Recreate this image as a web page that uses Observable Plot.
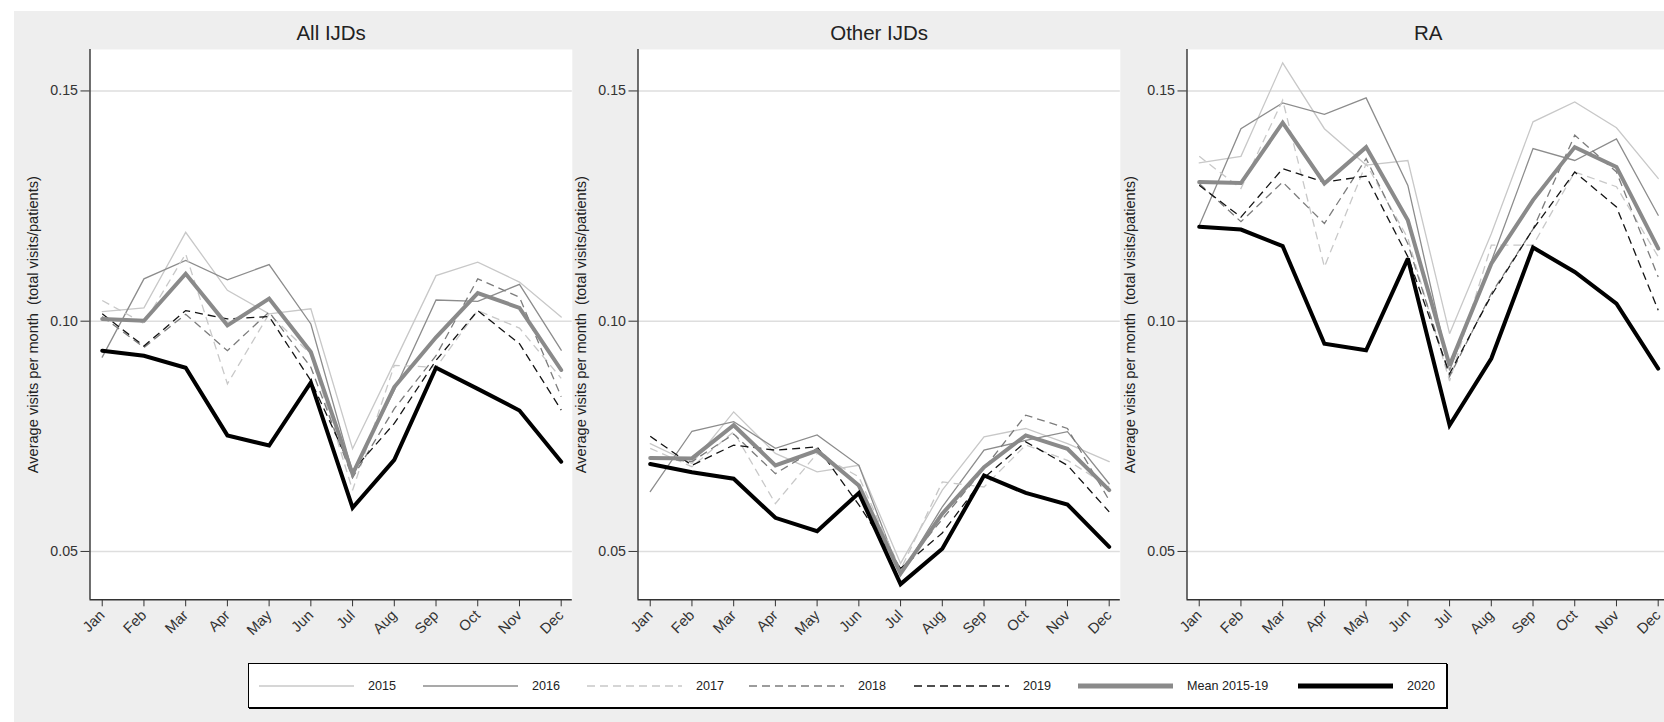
<!DOCTYPE html>
<html>
<head>
<meta charset="utf-8">
<script src="https://cdn.jsdelivr.net/npm/d3@7"></script>
<script src="https://cdn.jsdelivr.net/npm/@observablehq/plot@0.6"></script>
<style>
html, body { margin: 0; padding: 0; width: 1664px; height: 722px; overflow: hidden; background: #ffffff; font-family: "Liberation Sans", Arial, sans-serif; }
#bg { position: absolute; left: 14px; top: 11px; right: 0; bottom: 0; background: #eeeeee; }
.panel { position: absolute; top: 11px; }
.panel svg { overflow: visible; max-width: none !important; display: block; }
.panel svg g[aria-label="y-axis tick label"] { font-size: 14.2px; }
.panel svg g[aria-label="x-axis tick label"] { font-size: 14.8px; }
#legend { position: absolute; left: 248px; top: 663px; width: 1197px; height: 43px; background: #ffffff; border: 1px solid #000; box-shadow: 1px 1px 0 #000; }
.item { position: absolute; top: 0; height: 43px; display: flex; align-items: center; font-size: 12.6px; color: #222; white-space: nowrap; }
.item svg { margin-right: 14px; }
</style>
</head>
<body>
<div id="bg"></div>
<div id="charts"></div>
<div id="legend"></div>
<script>
// ---------- data ----------
const months = ["Jan", "Feb", "Mar", "Apr", "May", "Jun", "Jul", "Aug", "Sep", "Oct", "Nov", "Dec"];
const panelTitles = ["All IJDs", "Other IJDs", "RA"];
const seriesLabels = ["2015", "2016", "2017", "2018", "2019", "Mean 2015-19", "2020"];
const yTicks = [0.05, 0.10, 0.15];
const yLabel = "Average visits per month\u00a0 (total visits/patients)";

// All IJDs
const allIJDs_2015 = [0.1021, 0.1029, 0.1193, 0.1067, 0.1016, 0.1027, 0.0723, 0.0910, 0.1099, 0.1128, 0.1085, 0.1009];
const allIJDs_2016 = [0.0922, 0.1092, 0.1132, 0.1090, 0.1123, 0.0994, 0.0672, 0.0850, 0.1046, 0.1043, 0.1080, 0.0937];
const allIJDs_2017 = [0.1045, 0.0995, 0.1146, 0.0864, 0.1016, 0.0928, 0.0633, 0.0904, 0.0900, 0.1023, 0.0985, 0.0876];
const allIJDs_2018 = [0.1010, 0.0943, 0.1015, 0.0936, 0.1020, 0.0900, 0.0660, 0.0810, 0.0925, 0.1092, 0.1052, 0.0836];
const allIJDs_2019 = [0.1016, 0.0946, 0.1023, 0.1005, 0.1010, 0.0871, 0.0675, 0.0778, 0.0915, 0.1023, 0.0951, 0.0807];
const allIJDs_mean = [0.1005, 0.1001, 0.1103, 0.0991, 0.1049, 0.0933, 0.0668, 0.0857, 0.0965, 0.1061, 0.1029, 0.0894];
const allIJDs_2020 = [0.0936, 0.0925, 0.0899, 0.0752, 0.0730, 0.0867, 0.0595, 0.0699, 0.0899, 0.0853, 0.0806, 0.0695];

// Other IJDs
const otherIJDs_2015 = [0.0734, 0.0691, 0.0803, 0.0713, 0.0673, 0.0687, 0.0474, 0.0633, 0.0749, 0.0767, 0.0734, 0.0695];
const otherIJDs_2016 = [0.0630, 0.0761, 0.0782, 0.0724, 0.0753, 0.0687, 0.0449, 0.0597, 0.0720, 0.0741, 0.0760, 0.0647];
const otherIJDs_2017 = [0.0724, 0.0684, 0.0760, 0.0604, 0.0713, 0.0662, 0.0460, 0.0651, 0.0640, 0.0731, 0.0698, 0.0640];
const otherIJDs_2018 = [0.0705, 0.0695, 0.0755, 0.0669, 0.0724, 0.0640, 0.0460, 0.0570, 0.0680, 0.0796, 0.0767, 0.0611];
const otherIJDs_2019 = [0.0750, 0.0687, 0.0731, 0.0720, 0.0727, 0.0601, 0.0463, 0.0540, 0.0660, 0.0738, 0.0687, 0.0586];
const otherIJDs_mean = [0.0703, 0.0702, 0.0774, 0.0687, 0.0719, 0.0643, 0.0452, 0.0582, 0.0683, 0.0752, 0.0723, 0.0633];
const otherIJDs_2020 = [0.0690, 0.0672, 0.0658, 0.0573, 0.0544, 0.0627, 0.0429, 0.0506, 0.0665, 0.0627, 0.0602, 0.0510];

// RA
const ra_2015 = [0.1344, 0.1358, 0.1561, 0.1418, 0.1339, 0.1349, 0.0973, 0.1190, 0.1433, 0.1476, 0.1420, 0.1310];
const ra_2016 = [0.1208, 0.1418, 0.1474, 0.1449, 0.1485, 0.1295, 0.0893, 0.1130, 0.1375, 0.1349, 0.1396, 0.1230];
const ra_2017 = [0.1358, 0.1288, 0.1480, 0.1118, 0.1342, 0.1180, 0.0870, 0.1165, 0.1165, 0.1324, 0.1292, 0.1140];
const ra_2018 = [0.1299, 0.1216, 0.1302, 0.1212, 0.1353, 0.1168, 0.0880, 0.1060, 0.1200, 0.1404, 0.1324, 0.1096];
const ra_2019 = [0.1295, 0.1226, 0.1331, 0.1302, 0.1315, 0.1140, 0.0886, 0.1056, 0.1200, 0.1324, 0.1248, 0.1024];
const ra_mean = [0.1302, 0.1300, 0.1431, 0.1299, 0.1378, 0.1219, 0.0904, 0.1125, 0.1263, 0.1378, 0.1335, 0.1158];
const ra_2020 = [0.1205, 0.1199, 0.1163, 0.0951, 0.0937, 0.1136, 0.0774, 0.0919, 0.1160, 0.1107, 0.1038, 0.0897];

const panelSeries = [
  [allIJDs_2015, allIJDs_2016, allIJDs_2017, allIJDs_2018, allIJDs_2019, allIJDs_mean, allIJDs_2020],
  [otherIJDs_2015, otherIJDs_2016, otherIJDs_2017, otherIJDs_2018, otherIJDs_2019, otherIJDs_mean, otherIJDs_2020],
  [ra_2015, ra_2016, ra_2017, ra_2018, ra_2019, ra_mean, ra_2020]
];

// ---------- styles & layout ----------
const seriesStyles = [
  {stroke: "#c8c8c8", width: 1.3, dash: null},
  {stroke: "#8c8c8c", width: 1.3, dash: null},
  {stroke: "#c8c8c8", width: 1.3, dash: "8,5"},
  {stroke: "#7c7c7c", width: 1.3, dash: "8,5"},
  {stroke: "#141414", width: 1.3, dash: "8,5"},
  {stroke: "#8a8a8a", width: 4, dash: null},
  {stroke: "#000000", width: 4, dash: null}
];
const plotLefts = [89.5, 637.7, 1186.6];
const plotWidth = 482.3;
const mL = 75.5, mR = 12, mT = 38, mB = 52;
const plotHeight = 550.3;
const xDomain = [-0.293, 11.266];
const yDomain = [0.0395, 0.159];

const charts = document.getElementById("charts");
panelTitles.forEach((title, p) => {
  const lines = panelSeries[p].map((vals, s) => Plot.line(vals, {
    x: (d, i) => i,
    y: d => d,
    stroke: seriesStyles[s].stroke,
    strokeWidth: seriesStyles[s].width,
    strokeDasharray: seriesStyles[s].dash,
    strokeLinecap: seriesStyles[s].dash ? "butt" : "round",
    strokeLinejoin: "miter",
    strokeMiterlimit: 3
  }));
  const W = mL + plotWidth + mR, H = mT + plotHeight + mB;
  const chart = Plot.plot({
    width: W,
    height: H,
    marginLeft: mL, marginRight: mR, marginTop: mT, marginBottom: mB,
    style: {background: "transparent", fontFamily: "Liberation Sans, Arial, sans-serif", fontSize: "14px", color: "#333", maxWidth: "none"},
    x: {type: "linear", domain: xDomain},
    y: {type: "linear", domain: yDomain},
    marks: [
      Plot.frame({fill: "white", stroke: "none"}),
      Plot.gridY(yTicks, {stroke: "#dedede", strokeOpacity: 1, strokeWidth: 1.6}),
      ...lines,
      Plot.ruleY([yDomain[0]], {stroke: "#333", strokeWidth: 1.4}),
      Plot.ruleX([xDomain[0]], {stroke: "#333", strokeWidth: 1.4}),
      Plot.axisY(yTicks, {tickFormat: d3.format(".2f"), tickSize: 9, tickPadding: 3, fontSize: 14.2, label: null, stroke: "#333", fill: "#333"}),
      Plot.axisX(d3.range(12), {tickFormat: i => months[i], tickRotate: -45, tickSize: 7, tickPadding: 6, fontSize: 14.8, label: null, stroke: "#333", fill: "#333"}),
      Plot.text([title], {frameAnchor: "top", lineAnchor: "middle", textAnchor: "middle", dy: -16, fontSize: 20.5, fill: "#222"}),
      Plot.text([yLabel], {frameAnchor: "left", textAnchor: "middle", lineAnchor: "middle", dx: -56.5, rotate: -90, fontSize: 14.6, fill: "#222"})
    ]
  });
  chart.style.maxWidth = "none";
  chart.style.width = W + "px";
  chart.style.height = H + "px";
  const wrap = document.createElement("div");
  wrap.className = "panel";
  wrap.style.left = (plotLefts[p] - mL) + "px";
  wrap.style.width = W + "px";
  wrap.appendChild(chart);
  charts.appendChild(wrap);
});

// ---------- legend ----------
const legendX = [10, 174, 338, 500, 665, 829, 1049];
const legend = document.getElementById("legend");
seriesLabels.forEach((lab, s) => {
  const st = seriesStyles[s];
  const item = document.createElement("div");
  item.className = "item";
  item.style.left = legendX[s] + "px";
  item.innerHTML = `<svg width="95" height="10"><line x1="0" y1="5" x2="95" y2="5" stroke="${st.stroke}" stroke-width="${st.width === 4 ? 5 : 1.5}" ${st.dash ? `stroke-dasharray="${st.dash}"` : ""}/></svg><span>${lab}</span>`;
  legend.appendChild(item);
});
</script>
</body>
</html>
